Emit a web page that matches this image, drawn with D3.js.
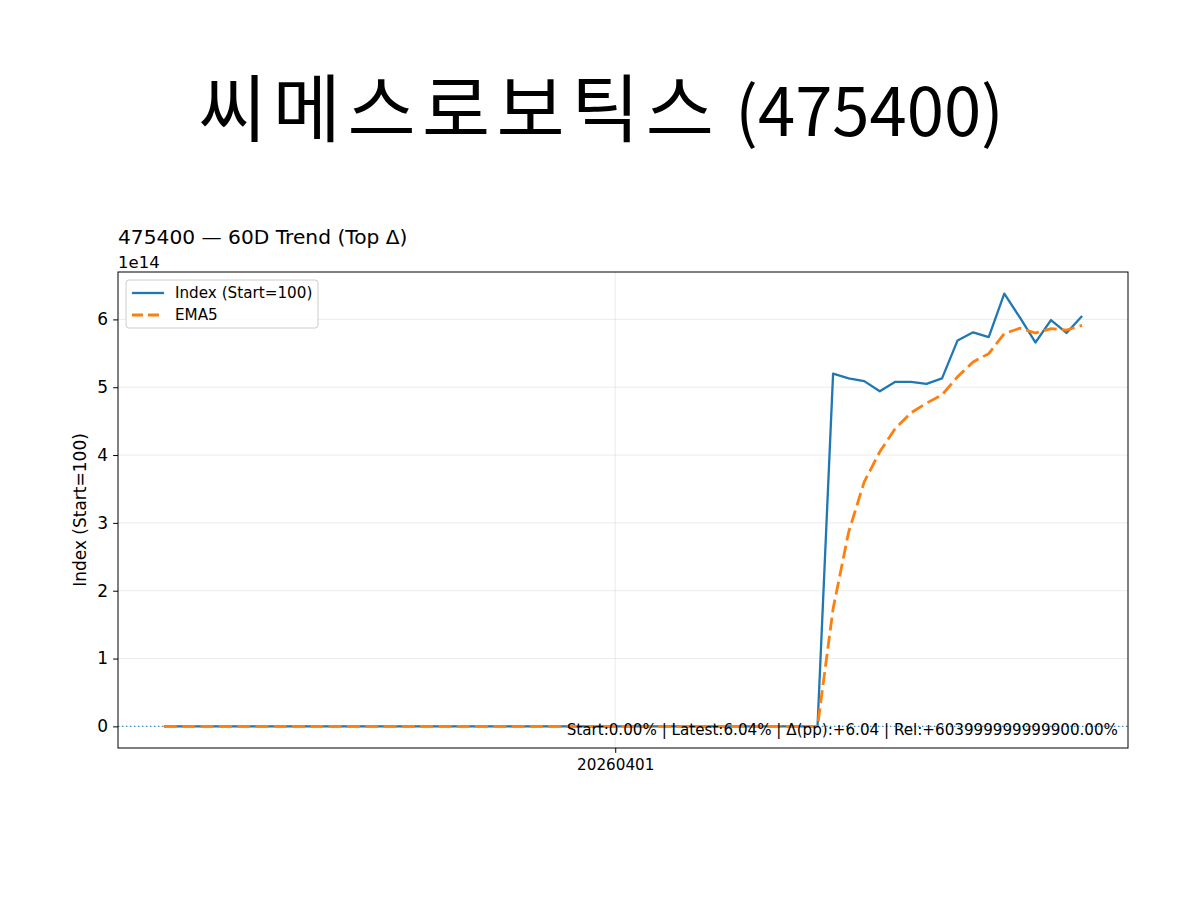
<!DOCTYPE html>
<html><head><meta charset="utf-8">
<script src="https://cdn.jsdelivr.net/npm/d3@7"></script>
<style>body{margin:0;background:#fff}svg{display:block}</style>
</head><body>
<svg id="c" width="1200" height="900"></svg>
<script>
// ---- data ----
const titleName = "씨메스로보틱스";
const titleCode = "(475400)";
const subtitle = "475400 — 60D Trend (Top Δ)";
const yLabel = "Index (Start=100)";
const seriesNames = ["Index (Start=100)", "EMA5"];
// 60 daily points; first 43 sit at the start value of 100
const flatCount = 43;
const indexTail = [5.20e14, 5.13e14, 5.09e14, 4.94e14, 5.08e14, 5.08e14, 5.05e14, 5.13e14, 5.69e14, 5.81e14, 5.74e14, 6.38e14, 6.03e14, 5.66e14, 5.99e14, 5.80e14, 6.05e14];
const emaTail = [1.733e14, 2.866e14, 3.604e14, 4.049e14, 4.393e14, 4.622e14, 4.765e14, 4.887e14, 5.155e14, 5.373e14, 5.495e14, 5.790e14, 5.870e14, 5.800e14, 5.863e14, 5.842e14, 5.911e14];
const indexValues = Array(flatCount).fill(100).concat(indexTail);
const emaValues = Array(flatCount).fill(100).concat(emaTail);
const xTickIndex = [29];
const xTickLabels = ["20260401"];
const yTicks = [0, 1e14, 2e14, 3e14, 4e14, 5e14, 6e14];
const baseValue = 100;
const note = "Start:0.00% | Latest:6.04% | Δ(pp):+6.04 | Rel:+603999999999900.00%";

// ---- layout ----
const svg = d3.select("#c");
const L = 118, R = 1128, T = 272, B = 748;
const n = indexValues.length;
const xm = (n - 1) * 0.05;
const x = d3.scaleLinear().domain([-xm, n - 1 + xm]).range([L, R]);
const all = indexValues.concat(emaValues);
const ymin = d3.min(all), ymax = d3.max(all), ym = (ymax - ymin) * 0.05;
const y = d3.scaleLinear().domain([ymin - ym, ymax + ym]).range([B, T]);
const font = "DejaVu Sans, sans-serif";
const fs = 15.2;

const tt = svg.append("text").attr("x", 601).attr("y", 136).attr("text-anchor", "middle")
  .attr("font-family", "Noto Sans CJK KR, sans-serif").attr("fill", "#000");
tt.append("tspan").attr("font-size", 74).attr("letter-spacing", 6.5).text(titleName);
tt.append("tspan").attr("font-size", 67).text(" " + titleCode);
svg.append("text").attr("x", L).attr("y", 244).attr("font-family", font).attr("font-size", 20.2).attr("fill", "#000").text(subtitle);
svg.append("text").attr("x", L).attr("y", 268).attr("font-family", font).attr("font-size", 16.5).attr("fill", "#000").text("1e14");

// grid
const g = svg.append("g");
g.selectAll(".gy").data(yTicks).join("line")
  .attr("x1", L).attr("x2", R).attr("y1", d => y(d)).attr("y2", d => y(d))
  .attr("stroke", "#b0b0b0").attr("stroke-opacity", 0.3).attr("stroke-width", 0.8);
g.selectAll(".gx").data(xTickIndex).join("line")
  .attr("x1", d => x(d)).attr("x2", d => x(d)).attr("y1", T).attr("y2", B)
  .attr("stroke", "#b0b0b0").attr("stroke-opacity", 0.3).attr("stroke-width", 0.8);

// baseline
svg.append("line").attr("x1", L).attr("x2", R).attr("y1", y(baseValue)).attr("y2", y(baseValue))
  .attr("stroke", "#1f77b4").attr("stroke-opacity", 0.8).attr("stroke-width", 1.3).attr("stroke-dasharray", "1.4,2.6");

// lines
const line = d3.line().x((d, i) => x(i)).y(d => y(d));
svg.append("path").datum(indexValues).attr("d", line).attr("fill", "none")
  .attr("stroke", "#1f77b4").attr("stroke-width", 2.3).attr("stroke-linejoin", "round");
svg.append("path").datum(emaValues).attr("d", line).attr("fill", "none")
  .attr("stroke", "#ff7f0e").attr("stroke-width", 2.8).attr("stroke-dasharray", "13,5.3");

// axes
const ax = svg.append("g").attr("transform", `translate(0,${B})`)
  .call(d3.axisBottom(x).tickValues(xTickIndex).tickFormat((d, i) => xTickLabels[i]).tickSize(4.9).tickPadding(6));
const ay = svg.append("g").attr("transform", `translate(${L},0)`)
  .call(d3.axisLeft(y).tickValues(yTicks).tickFormat(d => d3.format("d")(d / 1e14)).tickSize(4.9).tickPadding(5));
[ax, ay].forEach(a => {
  a.select(".domain").remove();
  a.selectAll("text").attr("font-family", font).attr("font-size", fs).attr("fill", "#000");
  a.selectAll("line").attr("stroke", "#000").attr("stroke-width", 1);
});
ay.selectAll("text").attr("font-size", 17);
svg.append("rect").attr("x", L).attr("y", T).attr("width", R - L).attr("height", B - T)
  .attr("fill", "none").attr("stroke", "#000").attr("stroke-width", 1);

svg.append("text").attr("transform", `translate(86,${(T + B) / 2}) rotate(-90)`).attr("text-anchor", "middle")
  .attr("font-family", font).attr("font-size", 17).attr("fill", "#000").text(yLabel);

// note
svg.append("text").attr("x", 1118).attr("y", 735).attr("text-anchor", "end")
  .attr("font-family", font).attr("font-size", 15.15).attr("fill", "#000").text(note);

// legend
const lg = svg.append("g");
lg.append("rect").attr("x", 126).attr("y", 280).attr("width", 192).attr("height", 48).attr("rx", 3)
  .attr("fill", "#fff").attr("fill-opacity", 0.8).attr("stroke", "#cccccc").attr("stroke-width", 1);
const styles = [{c: "#1f77b4", w: 2.3, d: null}, {c: "#ff7f0e", w: 2.8, d: "11,5"}];
seriesNames.forEach((s, i) => {
  const yy = 293 + i * 22;
  lg.append("line").attr("x1", 132).attr("x2", 164).attr("y1", yy).attr("y2", yy)
    .attr("stroke", styles[i].c).attr("stroke-width", styles[i].w).attr("stroke-dasharray", styles[i].d);
  lg.append("text").attr("x", 175).attr("y", yy + 5).attr("font-family", font).attr("font-size", fs).attr("fill", "#000").text(s);
});
</script>
</body></html>
